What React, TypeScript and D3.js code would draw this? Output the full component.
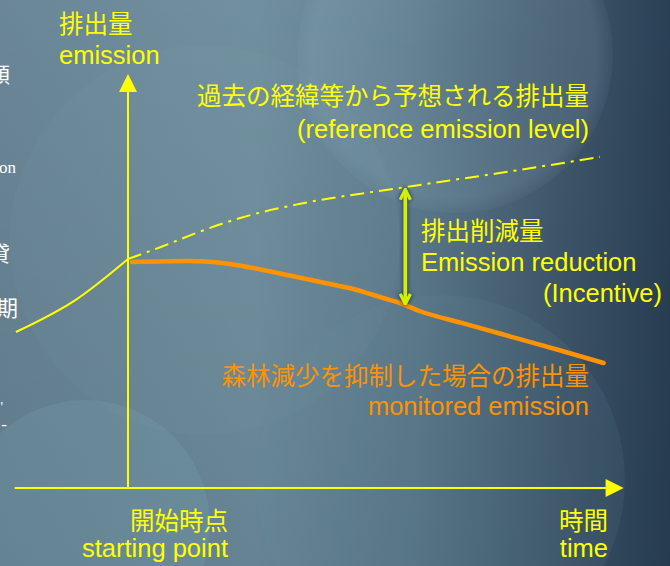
import React from 'react';
import * as d3 from 'd3';

// time (0 = starting point) vs emission (arbitrary units)
const historyTime = [-9.5, -4.3, 0];
const historyEmission = [39, 47.3, 57.25];

const referenceTime = [0, 3, 6, 9.5, 14.5, 23, 31.5, 40];
const referenceEmission = [57.25, 60.5, 64, 67.5, 71, 75, 78.75, 82.75];

const monitoredTime = [0.35, 5, 7.2, 10.6, 13.5, 16.3, 19.1, 21.9, 22.8, 24.7, 28.5, 32.5, 36.5, 40.3];
const monitoredEmission = [56.5, 56.75, 56.5, 55, 53.25, 51.5, 49.75, 47.25, 46.5, 44.25, 41.1, 37.8, 34.5, 31.25];

const reductionTime = 23.5;
const reductionRange = [75.2, 45.4];

const xAxisExtent = [-9.6, 42];
const yAxisExtent = [0, 103.5];

const W = 670;
const H = 566;

const x = d3.scaleLinear().domain([0, 40]).range([128, 600]);
const y = d3.scaleLinear().domain([0, 100]).range([488, 88]);

const YELLOW = '#ffff00';
const ORANGE = '#ff9200';
const ARROW = '#d4f000';
const LATIN = "'Liberation Sans', Arial, 'Noto Sans CJK JP', sans-serif";
const CJK = "'Noto Sans CJK JP', 'Liberation Sans', sans-serif";
const SERIF = "'Liberation Serif', 'DejaVu Serif', 'Noto Sans CJK JP', serif";

const toPts = (ts: number[], es: number[]) => ts.map((t, i) => [t, es[i]] as [number, number]);

const line = d3
  .line<[number, number]>()
  .x((d) => x(d[0]))
  .y((d) => y(d[1]))
  .curve(d3.curveMonotoneX);

export default function App() {
  const x0 = x(xAxisExtent[0]);
  const x1 = x(xAxisExtent[1]);
  const yTop = y(yAxisExtent[1]);
  const yBase = y(yAxisExtent[0]);
  const ax = x(0);
  const head = 18;

  return (
    <svg
      width={W}
      height={H}
      viewBox={`0 0 ${W} ${H}`}
      style={{ position: 'fixed', left: 0, top: 0, display: 'block' }}
    >
      <defs>
        <linearGradient id="bg" x1="0" y1="0" x2="1" y2="0">
          <stop offset="0%" stopColor="#6c899a" />
          <stop offset="38%" stopColor="#7393a2" />
          <stop offset="62%" stopColor="#5f7e90" />
          <stop offset="84%" stopColor="#41596e" />
          <stop offset="100%" stopColor="#2b4157" />
        </linearGradient>
        <linearGradient id="shade" x1="0" y1="0" x2="0" y2="1">
          <stop offset="0%" stopColor="#000" stopOpacity="0.02" />
          <stop offset="100%" stopColor="#001020" stopOpacity="0.12" />
        </linearGradient>
        <radialGradient id="bubble" cx="0.5" cy="0.5" r="0.5">
          <stop offset="0%" stopColor="#9fc0cc" stopOpacity="0.10" />
          <stop offset="90%" stopColor="#9fc0cc" stopOpacity="0.16" />
          <stop offset="100%" stopColor="#9fc0cc" stopOpacity="0.05" />
        </radialGradient>
        <filter id="glow" filterUnits="userSpaceOnUse" x="0" y="0" width={W} height={H}>
          <feDropShadow dx="0" dy="0" stdDeviation="2" floodColor="#0e1e30" floodOpacity="0.9" />
        </filter>
        <marker
          id="chev"
          viewBox="0 0 10 10"
          refX="8.5"
          refY="5"
          markerWidth="3.6"
          markerHeight="3.6"
          orient="auto-start-reverse"
        >
          <path d="M1,1 L9,5 L1,9" fill="none" stroke={ARROW} strokeWidth="2.4" />
        </marker>
      </defs>

      {/* background */}
      <rect width={W} height={H} fill="url(#bg)" />
      <rect width={W} height={H} fill="url(#shade)" />
      <circle cx={205} cy={240} r={195} fill="#8fb0bd" opacity={0.06} stroke="#5d7a8a" strokeOpacity={0.25} />
      <circle cx={455} cy={55} r={158} fill="url(#bubble)" />
      <circle cx={85} cy={525} r={125} fill="#7fb0ba" opacity={0.18} />
      <circle cx={440} cy={480} r={185} fill="#6f98a6" opacity={0.12} />

      {/* cut-off text from the slide underneath */}
      <g fill="#ffffff" fontFamily={SERIF}>
        <text x={10} y={82} fontSize={21} textAnchor="end">額</text>
        <text x={16} y={173} fontSize={17} textAnchor="end">tion</text>
        <text x={10} y={261} fontSize={21} textAnchor="end">貸</text>
        <text x={18} y={316} fontSize={22} textAnchor="end">期</text>
        <text x={3} y={412} fontSize={14} textAnchor="end">'</text>
        <text x={7} y={430} fontSize={17} textAnchor="end">-</text>
      </g>

      {/* axes */}
      <g stroke={YELLOW} strokeWidth={2} fill={YELLOW}>
        <line x1={ax} x2={ax} y1={yBase} y2={yTop + head - 2} />
        <path stroke="none" d={`M${ax},${yTop} L${ax - 9},${yTop + head} L${ax + 9},${yTop + head} Z`} />
        <line x1={x0} x2={x1 - head + 2} y1={yBase} y2={yBase} />
        <path stroke="none" d={`M${x1},${yBase} L${x1 - head},${yBase - 9} L${x1 - head},${yBase + 9} Z`} />
      </g>

      {/* history */}
      <path d={line(toPts(historyTime, historyEmission)) ?? ''} fill="none" stroke={YELLOW} strokeWidth={2} />
      {/* reference emission level */}
      <path
        d={line(toPts(referenceTime, referenceEmission)) ?? ''}
        fill="none"
        stroke={YELLOW}
        strokeWidth={2}
        strokeDasharray="14,6,3,6"
      />
      {/* monitored emission */}
      <path
        d={line(toPts(monitoredTime, monitoredEmission)) ?? ''}
        fill="none"
        stroke={ORANGE}
        strokeWidth={4.5}
        strokeLinecap="round"
      />

      {/* emission reduction arrow */}
      <line
        x1={x(reductionTime)}
        x2={x(reductionTime)}
        y1={y(reductionRange[0]) + 3}
        y2={y(reductionRange[1]) - 3}
        stroke={ARROW}
        strokeWidth={3.5}
        markerStart="url(#chev)"
        markerEnd="url(#chev)"
        filter="url(#glow)"
      />

      {/* labels */}
      <g fill={YELLOW}>
        <text x={59} y={33} fontFamily={CJK} fontSize={24.5}>排出量</text>
        <text x={59} y={64} fontFamily={LATIN} fontSize={25.5}>emission</text>

        <text x={589} y={105} fontFamily={CJK} fontSize={24.5} textAnchor="end">過去の経緯等から予想される排出量</text>
        <text x={589} y={138} fontFamily={LATIN} fontSize={25.5} textAnchor="end">(reference emission level)</text>

        <text x={421} y={240} fontFamily={CJK} fontSize={24.5}>排出削減量</text>
        <text x={421} y={271} fontFamily={LATIN} fontSize={25.5}>Emission reduction</text>
        <text x={662} y={302} fontFamily={LATIN} fontSize={25.5} textAnchor="end">(Incentive)</text>

        <text x={228} y={530} fontFamily={CJK} fontSize={24.5} textAnchor="end">開始時点</text>
        <text x={228} y={557} fontFamily={LATIN} fontSize={25.5} textAnchor="end">starting point</text>
        <text x={608} y={530} fontFamily={CJK} fontSize={24.5} textAnchor="end">時間</text>
        <text x={608} y={557} fontFamily={LATIN} fontSize={25.5} textAnchor="end">time</text>
      </g>
      <g fill={ORANGE}>
        <text x={589} y={385} fontFamily={CJK} fontSize={24.5} textAnchor="end">森林減少を抑制した場合の排出量</text>
        <text x={589} y={415} fontFamily={LATIN} fontSize={25.5} textAnchor="end">monitored emission</text>
      </g>
    </svg>
  );
}
